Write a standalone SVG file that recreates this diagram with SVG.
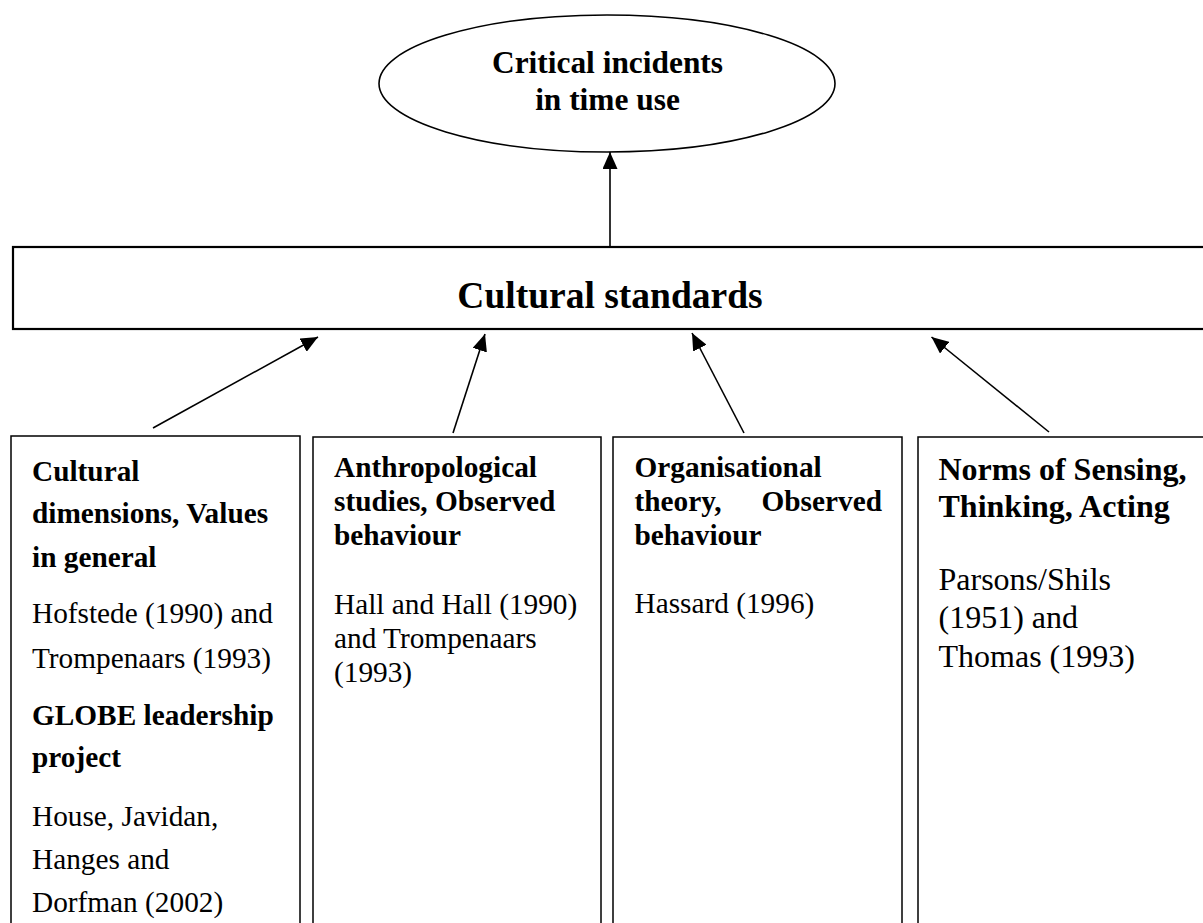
<svg xmlns="http://www.w3.org/2000/svg" width="1203" height="923" viewBox="0 0 1203 923">
<style>
  text { font-family: "Liberation Serif", "Times New Roman", serif; fill: #000; }
  .b { font-weight: bold; }
  .box { fill: #fff; stroke: #000; stroke-width: 1.5; }
  .main { fill: #fff; stroke: #000; stroke-width: 2.2; }
  .conn { stroke: #000; stroke-width: 1.6; fill: none; marker-end: url(#arr); }
  .t29 { font-size: 29.3px; }
  .t32 { font-size: 32px; }
</style>
<defs>
  <marker id="arr" markerUnits="userSpaceOnUse" markerWidth="17" markerHeight="15" viewBox="0 0 17 15" refX="17" refY="7.5" orient="auto">
    <path d="M0,0 L17,7.5 L0,15 z" fill="#000"/>
  </marker>
</defs>
<rect width="1203" height="923" fill="#fff"/>

<g id="critical-incidents">
  <ellipse cx="607" cy="83.5" rx="228" ry="68.5" fill="#fff" stroke="#000" stroke-width="1.6"/>
  <text class="b" x="607.5" y="73" font-size="31.4" text-anchor="middle">Critical incidents</text>
  <text class="b" x="607.5" y="110" font-size="31.4" text-anchor="middle">in time use</text>
</g>

<g id="cultural-standards">
  <rect class="main" x="13" y="247" width="1200" height="82"/>
  <text class="b" x="610" y="308" font-size="37.5" text-anchor="middle">Cultural standards</text>
</g>

<g id="cultural-dimensions">
  <rect class="box" x="11" y="436" width="289" height="500"/>
  <text class="b t29" x="32" y="481">Cultural</text>
  <text class="b t29" x="32" y="523">dimensions, Values</text>
  <text class="b t29" x="32" y="567">in general</text>
  <text class="t29" x="32" y="623">Hofstede (1990) and</text>
  <text class="t29" x="32" y="668">Trompenaars (1993)</text>
  <text class="b t29" x="32" y="725">GLOBE leadership</text>
  <text class="b t29" x="32" y="767">project</text>
  <text class="t29" x="32" y="826">House, Javidan,</text>
  <text class="t29" x="32" y="869">Hanges and</text>
  <text class="t29" x="32" y="912">Dorfman (2002)</text>
</g>

<g id="anthropological">
  <rect class="box" x="313" y="437" width="288" height="500"/>
  <text class="b t29" x="334" y="477">Anthropological</text>
  <text class="b t29" x="334" y="511">studies, Observed</text>
  <text class="b t29" x="334" y="545">behaviour</text>
  <text class="t29" x="334" y="614">Hall and Hall (1990)</text>
  <text class="t29" x="334" y="648">and Trompenaars</text>
  <text class="t29" x="334" y="682">(1993)</text>
</g>

<g id="organisational">
  <rect class="box" x="613" y="437" width="289" height="500"/>
  <text class="b t29" x="634.5" y="477">Organisational</text>
  <text class="b t29" y="511"><tspan x="634.5">theory,</tspan><tspan x="761.5">Observed</tspan></text>
  <text class="b t29" x="634.5" y="545">behaviour</text>
  <text class="t29" x="634.5" y="613">Hassard (1996)</text>
</g>

<g id="norms">
  <rect class="box" x="918" y="437" width="300" height="500"/>
  <text class="b t32" x="938.5" y="480">Norms of Sensing,</text>
  <text class="b t32" x="938.5" y="517">Thinking, Acting</text>
  <text class="t32" x="938.5" y="590">Parsons/Shils</text>
  <text class="t32" x="938.5" y="628">(1951) and</text>
  <text class="t32" x="938.5" y="667">Thomas (1993)</text>
</g>

<g id="connectors">
  <line class="conn" x1="610" y1="247" x2="610" y2="152"/>
  <line class="conn" x1="153" y1="428" x2="318" y2="337"/>
  <line class="conn" x1="453" y1="433" x2="485" y2="334"/>
  <line class="conn" x1="744" y1="433" x2="692" y2="333"/>
  <line class="conn" x1="1049" y1="432" x2="931.5" y2="337"/>
</g>
</svg>
